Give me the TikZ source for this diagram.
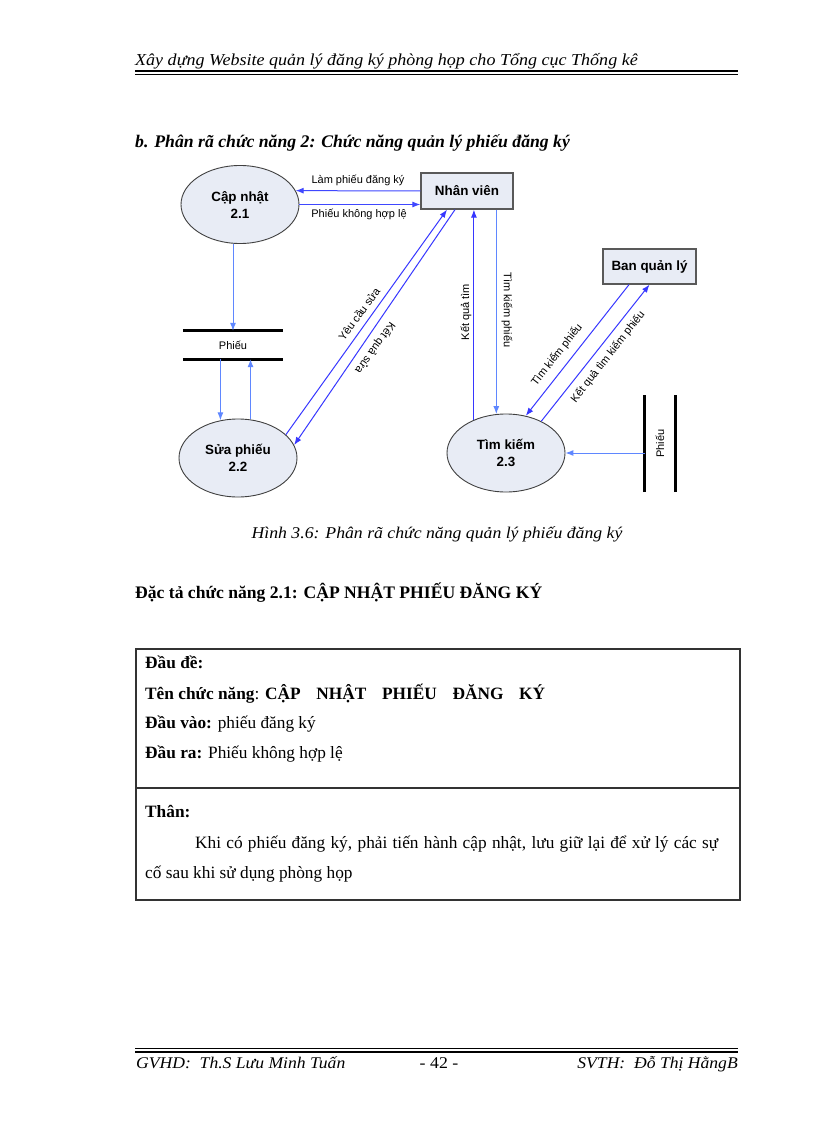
\documentclass[tikz,border=0pt]{standalone}
\usepackage{fontspec}
\setmainfont{Liberation Serif}
\setsansfont{Liberation Sans}
\newfontfamily\cambriafont[FakeStretch=1.08]{Liberation Serif}
\usetikzlibrary{shapes.geometric,arrows.meta}
\definecolor{procfill}{RGB}{232,236,245}
\definecolor{flowdark}{RGB}{55,55,255}
\definecolor{flowlight}{RGB}{95,135,255}
\newcommand*\bodyfont{\fontsize{17.3}{20}\selectfont}
\newcommand*\pagefont{\cambriafont\itshape\fontsize{16.7}{20}\selectfont}
\pgfkeys{tikz/myprocess/.style={ellipse,draw=black!75,fill=procfill,line width=0.9pt,minimum width=118pt,minimum height=78pt,inner sep=0pt,align=center,font=\sffamily\bfseries\fontsize{13.4}{17}\selectfont}}
\pgfkeys{tikz/myentity/.style={rectangle,draw=black!65,fill=procfill,line width=1.3pt,minimum width=92pt,minimum height=36pt,inner sep=0pt,font=\sffamily\bfseries\fontsize{13.4}{15}\selectfont}}
\pgfkeys{tikz/myflow/.style={-{Latex[length=8pt,width=6pt]},draw=flowdark,line width=1pt}}
\pgfkeys{tikz/myflowlight/.style={myflow,draw=flowlight}}
\pgfkeys{tikz/mylabel/.style={inner sep=0pt,font=\sffamily\fontsize{11}{13}\selectfont}}
\pgfkeys{tikz/mystorebox/.style={inner sep=0pt,minimum width=100pt,minimum height=28pt,font=\sffamily\fontsize{11}{13}\selectfont}}
\pgfkeys{tikz/mytext/.style={anchor=base west,inner sep=0pt,font=\bodyfont}}
\newcommand*\mystore[1]{\draw [line width=3pt] (#1.north west) -- (#1.north east) (#1.south west) -- (#1.south east);}

\begin{document}
\begin{tikzpicture}[x=1pt,y=-1pt]
\fill [white] (0,0) rectangle (816,1123);
\useasboundingbox (0,0) rectangle (816,1123);

% header
\node [mytext,font=\pagefont] (header) at (135,66) {Xây dựng Website quản lý đăng ký phòng họp cho Tổng cục Thống kê};
\draw [line width=2pt] (135,71.5) -- (738,71.5);
\draw [line width=0.7pt] (135,74.5) -- (738,74.5);

\node [mytext,font=\fontsize{17.7}{20}\selectfont\bfseries\itshape] (title) at (135,148) {b. Phân rã chức năng 2: Chức năng quản lý phiếu đăng ký};

% processes and entities
\node [myprocess] (capnhat) at (240,204.5) {Cập nhật\\2.1};
\node [myprocess] (suaphieu) at (238,458) {Sửa phiếu\\2.2};
\node [myprocess] (timkiem) at (506,453) {Tìm kiếm\\2.3};
\node [myentity] (nhanvien) at (467,191) {Nhân viên};
\node [myentity,minimum width=93pt,minimum height=35pt] (banquanly) at (649.5,266.5) {Ban quản lý};

% data stores
\node [mystorebox] (phieu1) at (233,345) {Phiếu};
\node [mystorebox,rotate=90,minimum width=97pt,minimum height=30pt] (phieu2) at (660,443.5) {Phiếu};
\mystore{phieu1}
\mystore{phieu2}

% flows
\draw [myflow,draw=flowdark!80!flowlight] (nhanvien.west) -- (capnhat.14);
\draw [myflow,draw=flowdark!80!flowlight] (capnhat.east) -- (capnhat.east -| nhanvien.west);
\draw [myflowlight] (capnhat.south -| phieu1.north) -- (phieu1.north);
\draw [myflowlight] (phieu1.south -| suaphieu.115) -- (suaphieu.115);
\draw [myflowlight] (suaphieu.72) -- (suaphieu.72 |- phieu1.south);
\draw [myflow] (suaphieu.26) -- ([xshift=-20pt]nhanvien.south);
\draw [myflow] ([xshift=-12pt]nhanvien.south) -- (suaphieu.13);
\draw [myflow] (timkiem.134) -- (timkiem.134 |- nhanvien.south);
\draw [myflowlight] (timkiem.104 |- nhanvien.south) -- (timkiem.104);
\draw [myflow] ([xshift=-20.5pt]banquanly.south) -- (timkiem.62);
\draw [myflow] (timkiem.42) -- (banquanly.south);
\draw [myflowlight] (phieu2.north |- timkiem.east) -- (timkiem.east);

% flow labels
\node [mylabel] (lamphieu) at (358,180) {Làm phiếu đăng ký};
\node [mylabel] (khonghople) at (359,214) {Phiếu không hợp lệ};
\node [mylabel,rotate=54] (yeucausua) at (359,314) {Yêu cầu sửa};
\node [mylabel,rotate=234] (ketquasua) at (375,348) {Kết quả sửa};
\node [mylabel,rotate=90] (ketquatim) at (466,312) {Kết quả tìm};
\node [mylabel,rotate=-90] (timkiemphieu) at (507,310) {Tìm kiếm phiếu};
\node [mylabel,rotate=52] (timphieubql) at (557,355) {Tìm kiếm phiếu};
\node [mylabel,rotate=52] (ketquabql) at (608,357) {Kết quả tìm kiếm phiếu};

\node [anchor=base,inner sep=0pt,font=\cambriafont\itshape\fontsize{16.4}{20}\selectfont] (caption) at (437,538) {Hình 3.6: Phân rã chức năng quản lý phiếu đăng ký};

\node [mytext,font=\fontsize{17.6}{20}\selectfont\bfseries] (dacta) at (135,598) {Đặc tả chức năng 2.1: CẬP NHẬT PHIẾU ĐĂNG KÝ};

% specification table
\draw [line width=1.2pt,black!80] (136,649) rectangle (740,900);
\draw [line width=1.2pt,black!80] (136,788) -- (740,788);
\node [mytext] (daude) at (145,668) {\textbf{Đầu đề:}};
\node [mytext] (tenchucnang) at (145,699) {\textbf{Tên chức năng}: \makebox[280pt][s]{\bfseries CẬP NHẬT PHIẾU ĐĂNG KÝ}};
\node [mytext] (dauvao) at (145,728) {\textbf{Đầu vào:} phiếu đăng ký};
\node [mytext] (daura) at (145,758) {\textbf{Đầu ra:} Phiếu không hợp lệ};
\node [mytext] (than) at (145,817) {\textbf{Thân:}};
\node [mytext] (than1) at (195,848) {\makebox[523pt][s]{Khi có phiếu đăng ký, phải tiến hành cập nhật, lưu giữ lại để xử lý các sự}};
\node [mytext] (than2) at (145,878) {cố sau khi sử dụng phòng họp};

% footer
\draw [line width=0.7pt] (135,1048.5) -- (738,1048.5);
\draw [line width=2pt] (135,1051.5) -- (738,1051.5);
\node [mytext,font=\cambriafont\itshape\fontsize{16.3}{20}\selectfont] (gvhd) at (136,1068) {GVHD:\ \ Th.S Lưu Minh Tuấn};
\node [anchor=base,inner sep=0pt,font=\cambriafont\fontsize{16.5}{20}\selectfont] (trang) at (439,1068) {- 42 -};
\node [anchor=base east,inner sep=0pt,font=\cambriafont\itshape\fontsize{16.3}{20}\selectfont] (svth) at (738,1068) {SVTH:\ \ Đỗ Thị HằngB};

\end{tikzpicture}
\end{document}
